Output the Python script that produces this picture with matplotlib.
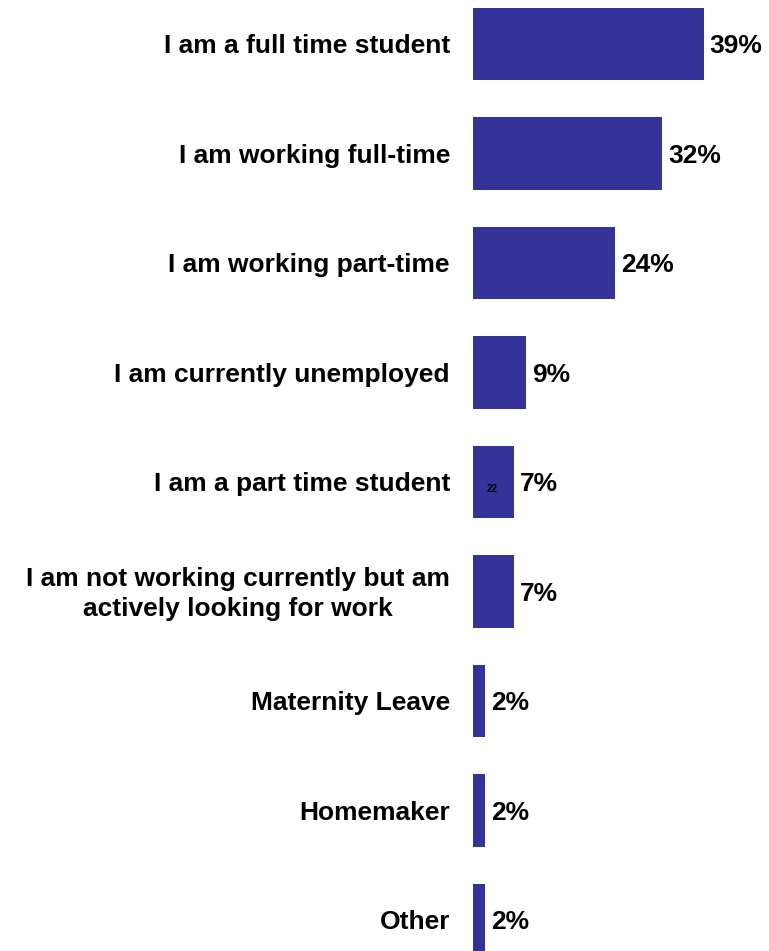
import matplotlib
matplotlib.use('Agg')
import matplotlib.pyplot as plt

# employment status shares (%)
categories = ['I am a full time student', 'I am working full-time', 'I am working part-time',
              'I am currently unemployed', 'I am a part time student',
              'I am not working currently but am\nactively looking for work',
              'Maternity Leave', 'Homemaker', 'Other']
values = [39, 32, 24, 9, 7, 7, 2, 2, 2]
bar_color = '#333399'

plt.rcParams['font.family'] = ['Liberation Sans', 'DejaVu Sans']

fig = plt.figure(figsize=(7.69, 9.51), dpi=100)
ax = fig.add_axes([473 / 769, 0, 1 - 473 / 769, 1])

pos = list(range(len(categories)))
ax.barh(pos, values, height=0.66, color=bar_color)
ax.set_xlim(0, 50)
ax.set_ylim(8.283, -0.402)
ax.axis('off')

for i, (cat, v) in enumerate(zip(categories, values)):
    ax.text(-0.078, i + 0.02, cat, transform=ax.get_yaxis_transform(), ha='right', va='center',
            multialignment='center', fontsize=19, fontweight='bold', linespacing=1.3)
    ax.text(v + 1.0, i + 0.02, '%d%%' % v, ha='left', va='center', fontsize=19, fontweight='bold')

# small page marker inside the part time student bar
ax.text(3.3, 4.06, '22', ha='center', va='center', fontsize=7, fontweight='bold')

fig.savefig('out.png', dpi=100)
